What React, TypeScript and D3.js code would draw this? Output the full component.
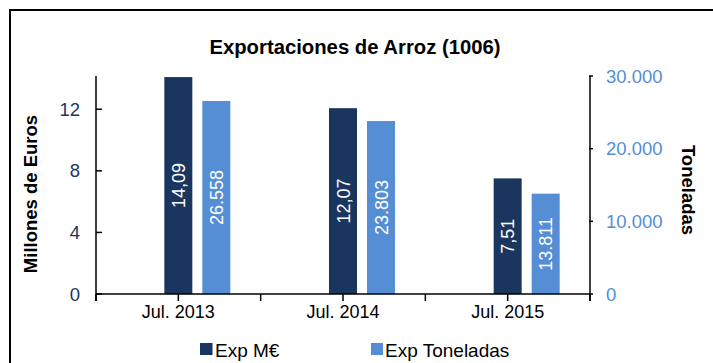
import React from "react";
import * as d3 from "d3";

const categories = ["Jul. 2013", "Jul. 2014", "Jul. 2015"];
const expEuros = [14.09, 12.07, 7.51];
const expToneladas = [26558, 23803, 13811];
const euroTicks = [0, 4, 8, 12];
const tonTicks = [0, 10000, 20000, 30000];
const euroLabels = ["14,09", "12,07", "7,51"];
const tonLabels = ["26.558", "23.803", "13.811"];

const W = 713;
const H = 363;
const FONT = "'Liberation Sans', Arial, sans-serif";
const DARK = "#1B365E";
const LIGHT = "#558ED5";

const plot = { left: 96, right: 590, top: 76, bottom: 294 };

export default function App() {
  const x = d3
    .scaleBand<string>()
    .domain(categories)
    .range([plot.left, plot.right])
    .padding(0);
  const yL = d3.scaleLinear().domain([0, 14.16]).range([plot.bottom, plot.top]);
  const yR = d3.scaleLinear().domain([0, 30000]).range([plot.bottom, plot.top]);
  const bw = x.bandwidth();
  const barW = 28;
  const fmtR = (v: number) => d3.format(",")(v).replace(/,/g, ".");
  const xTicks = d3.range(0, categories.length * 2 + 1).map((k) => plot.left + (k * bw) / 2);

  return (
    <svg
      width={W}
      height={H}
      style={{ position: "absolute", left: 0, top: 0, fontFamily: FONT }}
    >
      <rect x={0} y={0} width={W} height={H} fill="#fff" />
      <rect x={10} y={10} width={W + 10} height={H + 10} fill="none" stroke="#000" strokeWidth={2} />

      <text x={355} y={54} textAnchor="middle" fontSize={20.3} fontWeight="bold" fill="#000">
        Exportaciones de Arroz (1006)
      </text>

      {/* bars */}
      {categories.map((c, i) => {
        const cx = (x(c) as number) + bw / 2;
        const y1 = yL(expEuros[i]);
        const y2 = yR(expToneladas[i]);
        const x1 = cx - barW / 2;
        const x2 = cx + 24;
        return (
          <g key={c}>
            <rect x={x1} y={y1} width={barW} height={plot.bottom - y1} fill={DARK} />
            <rect x={x2} y={y2} width={barW} height={plot.bottom - y2} fill={LIGHT} />
            <text
              transform={`translate(${x1 + barW / 2 + 6.5},${(y1 + plot.bottom) / 2}) rotate(-90)`}
              textAnchor="middle"
              fontSize={18}
              fill="#fff"
            >
              {euroLabels[i]}
            </text>
            <text
              transform={`translate(${x2 + barW / 2 + 6.5},${(y2 + plot.bottom) / 2}) rotate(-90)`}
              textAnchor="middle"
              fontSize={18}
              fill="#fff"
            >
              {tonLabels[i]}
            </text>
          </g>
        );
      })}

      {/* x axis */}
      <line x1={plot.left} x2={plot.right} y1={plot.bottom} y2={plot.bottom} stroke="#000" strokeWidth={1.5} />
      {xTicks.map((t, k) => (
        <line key={k} x1={t} x2={t} y1={plot.bottom} y2={plot.bottom + 7} stroke="#000" strokeWidth={1.5} />
      ))}
      {categories.map((c) => (
        <text
          key={c}
          x={(x(c) as number) + bw / 2}
          y={318}
          textAnchor="middle"
          fontSize={18}
          fill="#000"
        >
          {c}
        </text>
      ))}

      {/* left axis */}
      <line x1={plot.left} x2={plot.left} y1={plot.top} y2={plot.bottom + 7} stroke="#000" strokeWidth={1.5} />
      {euroTicks.map((t) => (
        <g key={t}>
          <line x1={plot.left} x2={plot.left + 6} y1={yL(t)} y2={yL(t)} stroke="#000" strokeWidth={1.5} />
          <text x={80} y={yL(t) + 6.5} textAnchor="end" fontSize={18.5} fill={DARK}>
            {t}
          </text>
        </g>
      ))}
      <text
        transform={`translate(37,${194}) rotate(-90)`}
        textAnchor="middle"
        fontSize={18.5}
        fontWeight="bold"
        fill="#000"
      >
        Millones de Euros
      </text>

      {/* right axis */}
      <line x1={plot.right} x2={plot.right} y1={plot.top} y2={plot.bottom + 7} stroke="#000" strokeWidth={1.5} />
      {tonTicks.map((t) => (
        <g key={t}>
          <line x1={plot.right - 1} x2={plot.right + 3} y1={yR(t)} y2={yR(t)} stroke="#000" strokeWidth={1.5} />
          <text x={606} y={yR(t) + 6.5} textAnchor="start" fontSize={18.5} fill={LIGHT}>
            {fmtR(t)}
          </text>
        </g>
      ))}
      <text
        transform={`translate(682,${190}) rotate(90)`}
        textAnchor="middle"
        fontSize={18.5}
        fontWeight="bold"
        fill="#000"
      >
        Toneladas
      </text>

      {/* legend */}
      <rect x={200} y={343} width={12.5} height={12} fill={DARK} />
      <text x={215} y={357} fontSize={19} fill="#000">Exp M€</text>
      <rect x={371} y={343} width={12} height={12} fill={LIGHT} />
      <text x={385} y={357} fontSize={19} fill="#000">Exp Toneladas</text>
    </svg>
  );
}
